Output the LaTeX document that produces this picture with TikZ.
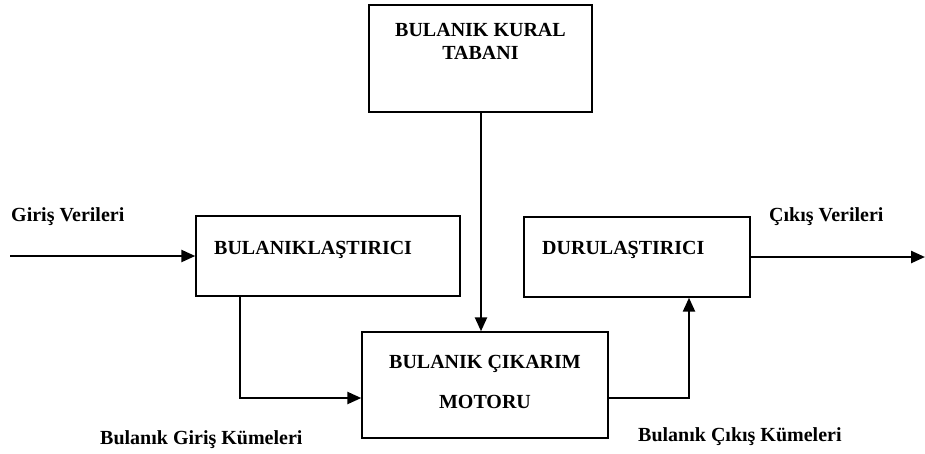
\documentclass[tikz,border=0pt]{standalone}
\usepackage{fontspec}
\setmainfont{Liberation Serif}
\usetikzlibrary{positioning,arrows.meta}

\tikzset{
  blok/.style={draw, line width=1.4pt, inner sep=0pt},
  yazi/.style={font=\fontsize{20}{23}\selectfont\bfseries, inner sep=0pt},
  ok/.style={line width=2.4pt, -{Triangle[length=14pt,width=12pt]}}
}

\begin{document}
\begin{tikzpicture}[x=1pt,y=-1pt]
  \useasboundingbox (0,0) rectangle (925,453);
  % kutular
  \node[blok, minimum width=223pt, minimum height=107pt] (kural) at (480.5,58.5) {};
  \node[blok, minimum width=264pt, minimum height=80pt] (bulanik) at (328,256) {};
  \node[blok, minimum width=226pt, minimum height=80pt] (durul) at (637,257) {};
  \node[blok, minimum width=246pt, minimum height=106pt] (motor) at (485,385) {};
  % kutu yazilari
  \node[yazi, align=center] (kuralT) at (480.5,41) {BULANIK KURAL\\TABANI};
  \node[yazi, anchor=west] (bulanikT) at (214,250) {BULANIKLAŞTIRICI};
  \node[yazi, anchor=west] (durulT) at (542,250) {DURULAŞTIRICI};
  \node[yazi, align=center, font=\fontsize{20}{40}\selectfont\bfseries] (motorT) at (485,382) {BULANIK ÇIKARIM\\MOTORU};
  % etiketler
  \node[yazi, anchor=west] (giris) at (11,217) {Giriş Verileri};
  \node[yazi, anchor=west] (cikis) at (769,217) {Çıkış Verileri};
  \node[yazi, anchor=west] (girisK) at (100,440) {Bulanık Giriş Kümeleri};
  \node[yazi, anchor=west] (cikisK) at (638,437) {Bulanık Çıkış Kümeleri};
  % baglantilar
  \coordinate (basla) at (10,256);
  \coordinate (bitis) at (925,257);
  \draw[ok] (basla) -- (bulanik.west);
  \draw[ok] (durul.east) -- (bitis);
  \draw[ok] (kural.south -| 481,0) -- (motor.north -| 481,0);
  \draw[ok] (bulanik.south -| 240,0) |- ([yshift=-13pt]motor.west);
  \draw[ok] ([yshift=-13pt]motor.east) -| (durul.south -| 689,0);
\end{tikzpicture}
\end{document}
